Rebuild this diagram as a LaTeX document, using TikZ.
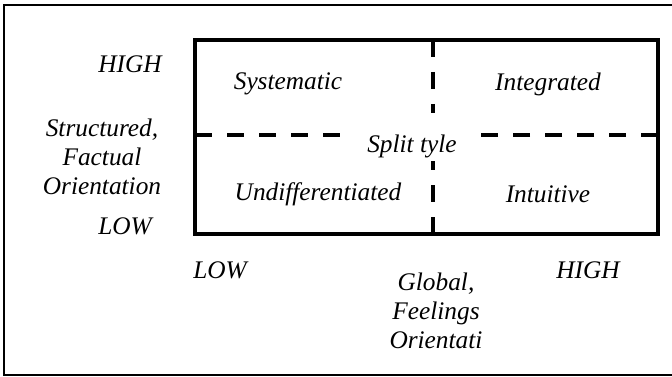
\documentclass[tikz,border=0pt]{standalone}
\usepackage{fontspec}
\setmainfont{Liberation Serif}
\begin{document}
\begin{tikzpicture}[x=0.75pt,y=-0.75pt,
  lbl/.style={font=\fontsize{19}{22}\selectfont\itshape, inner sep=0pt, align=center},
  frame/.style={line width=2.6pt},
  outer/.style={line width=1.5pt},
  split/.style={line width=2.6pt, dash pattern=on 13pt off 11pt}]
\useasboundingbox (0,0) rectangle (672,377);
\draw[outer] (4,5) rectangle (674,375);
% grid
\coordinate (tl) at (195,40);
\coordinate (br) at (658,234);
\coordinate (hl) at (195,135);
\coordinate (hl2) at (350,135);
\coordinate (hr1) at (476,135);
\coordinate (hr) at (658,135);
\coordinate (vt) at (433,40);
\coordinate (vt2) at (433,113);
\coordinate (vb1) at (433,161);
\coordinate (vb) at (433,234);
\draw[split] (hl) -- (hl2);
\draw[split] (hr) -- (hr1);
\draw[split] (vt) -- (vt2);
\draw[split] (vb) -- (vb1);
\draw[frame] (tl) rectangle (br);
% labels
\node[lbl] (sys) at (288,84) {Systematic};
\node[lbl] (int) at (548,84) {Integrated};
\node[lbl] (und) at (318,194) {Undifferentiated};
\node[lbl] (intu) at (548,194) {Intuitive};
\node[lbl] (split) at (412,146) {Split tyle};
\node[lbl] (yhigh) at (130,64) {HIGH};
\node[lbl, align=center] (yaxis) at (102,157) {Structured,\\Factual\\Orientation};
\node[lbl] (ylow) at (125,226) {LOW};
\node[lbl] (xlow) at (220,270) {LOW};
\node[lbl] (xhigh) at (588,270) {HIGH};
\node[lbl] (xaxis) at (436,311) {Global,\\Feelings\\Orientati};
\end{tikzpicture}
\end{document}
